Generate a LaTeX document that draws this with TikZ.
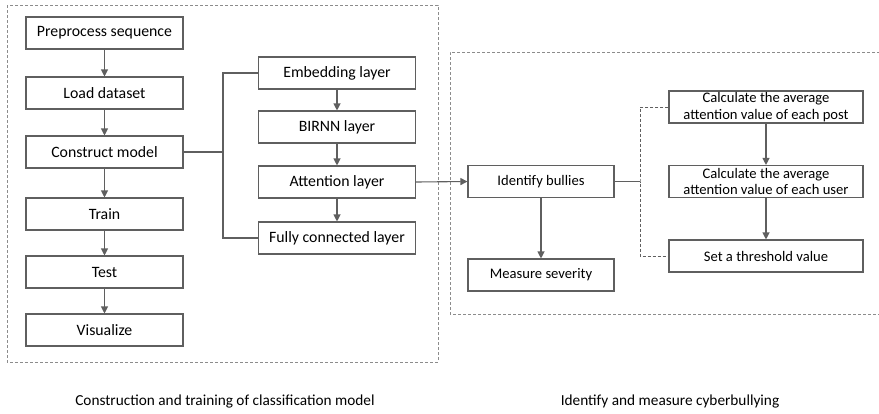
\documentclass[tikz,border=0pt]{standalone}
\usepackage{fontspec}
\setmainfont{Carlito}
\usetikzlibrary{arrows.meta}
\definecolor{edge}{HTML}{5F5F5F}
\definecolor{rim}{HTML}{8C8C8C}
\begin{document}
\begin{tikzpicture}[
  x=1pt, y=-1pt,
  font=\fontsize{15.8}{18}\selectfont,
  box/.style={draw=edge, line width=1.1pt, align=center, inner sep=1pt, fill=white,
              minimum width=157pt, minimum height=32pt},
  rbox/.style={box, font=\fontsize{14.6}{16.5}\selectfont},
  wide/.style={rbox, minimum width=194pt, inner sep=0pt},
  flow/.style={draw=edge, line width=1.1pt, -{Triangle[length=7pt, width=7pt]}},
  tie/.style={draw=edge, line width=1.1pt},
  dtie/.style={draw=edge, densely dashed, line width=0.8pt},
  frame/.style={draw=rim, densely dashed, line width=0.7pt},
  captxt/.style={font=\fontsize{15.3}{17}\selectfont},
]
\useasboundingbox (0,0) rectangle (879,413);

% ---------------- the two frames ----------------
\draw[frame] (7,5) rectangle (438,362);
\draw[frame] (880,52) -- (450,52) -- (450,314) -- (880,314);

% ---------------- classification model ----------------
\node[box] (prep)  at (104.5, 33) {Preprocess sequence};
\node[box] (load)  at (104.5, 93) {Load dataset};
\node[box] (model) at (104.5,152) {Construct model};
\node[box] (train) at (104.5,214) {Train};
\node[box] (test)  at (104.5,272) {Test};
\node[box] (vis)   at (104.5,330) {Visualize};

\draw[flow] (prep)  -- (load);
\draw[flow] (load)  -- (model);
\draw[flow] (model) -- (train);
\draw[flow] (train) -- (test);
\draw[flow] (test)  -- (vis);

% the layers of the model
\node[box] (embed) at (337, 73) {Embedding layer};
\node[box] (rnn)   at (337,127) {BIRNN layer};
\node[box] (att)   at (337,182) {Attention layer};
\node[box] (fc)    at (337,238) {Fully connected layer};

\draw[flow] (embed) -- (rnn);
\draw[flow] (rnn)   -- (att);
\draw[flow] (att)   -- (fc);

\coordinate (split) at (223,152);
\draw[tie] (model.east) -- (split);
\draw[tie] (embed.west) -| (split) |- (fc.west);

% ---------------- cyberbullying ----------------
\node[rbox, minimum width=146pt] (bully)  at (541,181.5) {Identify bullies};
\node[rbox, minimum width=146pt] (sever)  at (541,275)   {Measure severity};

\draw[flow] (att.east) -- (bully.west);
\draw[flow] (bully) -- (sever);

\node[wide] (post)  at (766,107)   {Calculate the average\\attention value of each post};
\node[wide] (user)  at (766,181.5) {Calculate the average\\attention value of each user};
\node[wide] (thres) at (766,256)   {Set a threshold value};

\draw[flow] (post) -- (user);
\draw[flow] (user) -- (thres);

\coordinate (fork) at (640,181.5);
\draw[tie] (bully.east) -- (fork);
\draw[dtie] (post.west) -| (fork) |- (thres.west);

% ---------------- captions ----------------
\node[captxt] (capl) at (225,401) {Construction and training of classification model};
\node[captxt] (capr) at (670,401) {Identify and measure cyberbullying};

\end{tikzpicture}
\end{document}
